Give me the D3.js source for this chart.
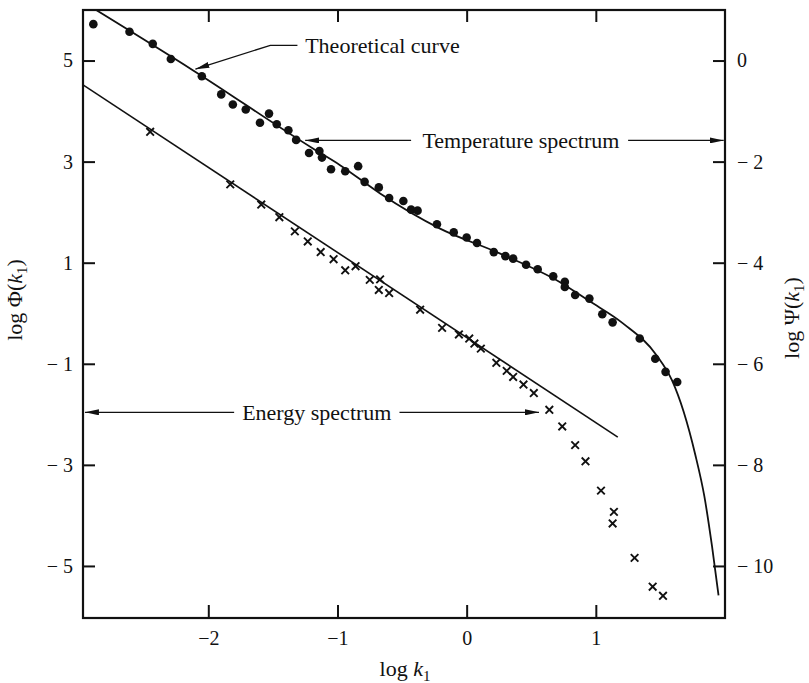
<!DOCTYPE html>
<html>
<head>
<meta charset="utf-8">
<script src="https://cdn.jsdelivr.net/npm/d3@7"></script>
<style>
  body { margin: 0; background: #fff; }
  svg text { font-family: 'Liberation Serif', 'Times New Roman', serif; fill: #111; }
</style>
</head>
<body>
<div id="chart"></div>
<script>
// Temperature spectrum (dots): log k1, log Phi(k1)
const tempX = [-2.89, -2.61, -2.43, -2.29, -2.05, -1.90, -1.81, -1.71, -1.60, -1.53, -1.47, -1.38, -1.32, -1.22, -1.14,
    -1.12, -1.05, -0.94, -0.84, -0.79, -0.68, -0.60, -0.49, -0.43, -0.38, -0.23, -0.10, 0.00, 0.08, 0.21,
    0.30, 0.36, 0.46, 0.55, 0.67, 0.76, 0.76, 0.84, 0.95, 1.05, 1.13, 1.34, 1.46, 1.54, 1.63];
const tempY = [5.72, 5.57, 5.33, 5.03, 4.69, 4.33, 4.13, 4.03, 3.77, 3.95, 3.74, 3.62, 3.43, 3.17, 3.21,
    3.08, 2.85, 2.81, 2.91, 2.60, 2.49, 2.28, 2.22, 2.05, 2.03, 1.76, 1.60, 1.50, 1.39, 1.21,
    1.13, 1.08, 0.96, 0.87, 0.73, 0.62, 0.52, 0.36, 0.29, -0.02, -0.18, -0.50, -0.90, -1.16, -1.36];

// Energy spectrum (crosses)
const energyX = [-2.45, -1.83, -1.59, -1.45, -1.33, -1.23, -1.13, -1.03, -0.94, -0.86, -0.75, -0.67, -0.68, -0.60, -0.36,
    -0.19, -0.06, 0.02, 0.06, 0.11, 0.23, 0.31, 0.36, 0.44, 0.52, 0.64, 0.74, 0.84, 0.92, 1.04,
    1.14, 1.13, 1.30, 1.44, 1.52];
const energyY = [3.59, 2.55, 2.15, 1.90, 1.62, 1.42, 1.21, 1.07, 0.85, 0.93, 0.66, 0.67, 0.46, 0.40, 0.07,
    -0.29, -0.42, -0.50, -0.60, -0.70, -0.98, -1.14, -1.26, -1.41, -1.58, -1.91, -2.24, -2.61, -2.93, -3.51,
    -3.93, -4.16, -4.84, -5.41, -5.59];

// Theoretical curve for the temperature spectrum
const curveX = [-2.90, -2.12, -1.19, -0.98, -0.67, -0.21, 0.26, 0.72, 0.95, 1.21, 1.47, 1.59, 1.68, 1.77, 1.84, 1.90, 1.95];
const curveY = [6.05, 4.81, 3.26, 2.93, 2.37, 1.68, 1.18, 0.62, 0.24, -0.20, -0.83, -1.33, -1.95, -2.80, -3.62, -4.62, -5.58];

// straight line through the energy spectrum
const lineX = [-2.97, 1.17];
const lineY = [4.52, -2.45];

// ticks
const xTicks = [-2, -1, 0, 1];
const xTickLabels = ['\u22122', '\u22121', '0', '1'];
const leftTicks = [5, 3, 1, -1, -3, -5];
const leftTickLabels = ['5', '3', '1', '\u2212 1', '\u2212 3', '\u2212 5'];
const rightTicks = [0, -2, -4, -6, -8, -10];
const rightTickLabels = ['0', '\u2212 2', '\u2212 4', '\u2212 6', '\u2212 8', '\u2212 10'];

const W = 809, H = 683;
const fLeft = 83, fRight = 725, fTop = 10, fBottom = 618;

const svg = d3.select('#chart').append('svg')
    .attr('width', W)
    .attr('height', H);

const x = d3.scaleLinear().domain([-2.97, 2.0]).range([fLeft, fRight]);
const y = d3.scaleLinear().domain([-6.03, 6.0]).range([fBottom, fTop]);
const yR = d3.scaleLinear().domain([-11.03, 1.0]).range([fBottom, fTop]);

const defs = svg.append('defs');
defs.append('clipPath').attr('id', 'frame')
    .append('rect').attr('x', fLeft).attr('y', fTop).attr('width', fRight - fLeft).attr('height', fBottom - fTop);

defs.append('marker')
    .attr('id', 'arrow')
    .attr('viewBox', '0 0 14 6')
    .attr('refX', 14).attr('refY', 3)
    .attr('markerWidth', 14).attr('markerHeight', 6)
    .attr('markerUnits', 'userSpaceOnUse')
    .attr('orient', 'auto')
    .append('path').attr('d', 'M0,0 L14,3 L0,6 Z').attr('fill', '#111');

// axes, ticks drawn inward
function styleAxis(g) {
    g.select('.domain').remove();
    g.selectAll('.tick line').attr('stroke', '#111').attr('stroke-width', 2);
    g.selectAll('.tick text').attr('font-size', 20).attr('fill', '#111');
}

svg.append('g')
    .attr('transform', `translate(0,${fBottom})`)
    .call(d3.axisBottom(x).tickValues(xTicks).tickSizeInner(-13).tickSizeOuter(0).tickPadding(13)
        .tickFormat((d, i) => xTickLabels[i]))
    .call(styleAxis);

svg.append('g')
    .attr('transform', `translate(0,${fTop})`)
    .call(d3.axisTop(x).tickValues(xTicks).tickSizeInner(-12).tickSizeOuter(0).tickFormat(''))
    .call(styleAxis);

svg.append('g')
    .attr('transform', `translate(${fLeft},0)`)
    .call(d3.axisLeft(y).tickValues(leftTicks).tickSizeInner(-12).tickSizeOuter(0).tickPadding(10)
        .tickFormat((d, i) => leftTickLabels[i]))
    .call(styleAxis);

svg.append('g')
    .attr('transform', `translate(${fRight},0)`)
    .call(d3.axisRight(yR).tickValues(rightTicks).tickSizeInner(-12).tickSizeOuter(0).tickPadding(12)
        .tickFormat((d, i) => rightTickLabels[i]))
    .call(styleAxis);

// frame
svg.append('rect')
    .attr('x', fLeft).attr('y', fTop)
    .attr('width', fRight - fLeft).attr('height', fBottom - fTop)
    .attr('fill', 'none').attr('stroke', '#111').attr('stroke-width', 2.2);

const plot = svg.append('g').attr('clip-path', 'url(#frame)');

// theoretical curve
plot.append('path')
    .datum(curveX.map((d, i) => [d, curveY[i]]))
    .attr('fill', 'none').attr('stroke', '#111').attr('stroke-width', 1.8)
    .attr('d', d3.line().x(d => x(d[0])).y(d => y(d[1])).curve(d3.curveMonotoneX));

// energy line
plot.append('path')
    .datum(lineX.map((d, i) => [d, lineY[i]]))
    .attr('fill', 'none').attr('stroke', '#111').attr('stroke-width', 1.6)
    .attr('d', d3.line().x(d => x(d[0])).y(d => y(d[1])));

// temperature dots
plot.selectAll('.dot')
    .data(tempX.map((d, i) => [d, tempY[i]]))
    .enter().append('circle')
    .attr('class', 'dot')
    .attr('cx', d => x(d[0]))
    .attr('cy', d => y(d[1]))
    .attr('r', 4.3)
    .attr('fill', '#111');

// energy crosses
const s = 3.8;
plot.selectAll('.cross')
    .data(energyX.map((d, i) => [d, energyY[i]]))
    .enter().append('path')
    .attr('class', 'cross')
    .attr('transform', d => `translate(${x(d[0])},${y(d[1])})`)
    .attr('d', `M${-s},${-s}L${s},${s}M${-s},${s}L${s},${-s}`)
    .attr('stroke', '#111').attr('stroke-width', 1.9);

// annotations
function arrow(pts) {
    svg.append('path')
        .attr('d', d3.line()(pts.map(p => [x(p[0]), y(p[1])])))
        .attr('fill', 'none').attr('stroke', '#111').attr('stroke-width', 1.3)
        .attr('marker-end', 'url(#arrow)');
}
function label(xv, yv, txt, anchor) {
    svg.append('text')
        .attr('x', x(xv)).attr('y', y(yv))
        .attr('dy', '0.35em')
        .attr('text-anchor', anchor)
        .attr('font-size', 22)
        .text(txt);
}

arrow([[-1.31, 5.30], [-1.52, 5.30], [-2.10, 4.83]]);
label(-1.25, 5.30, 'Theoretical curve', 'start');

arrow([[-0.43, 3.42], [-1.25, 3.42]]);
arrow([[1.25, 3.42], [1.99, 3.42]]);
label(0.42, 3.42, 'Temperature spectrum', 'middle');

arrow([[-1.80, -1.96], [-2.955, -1.96]]);
arrow([[-0.52, -1.96], [0.56, -1.96]]);
label(-1.16, -1.96, 'Energy spectrum', 'middle');

// axis titles
const xt = svg.append('text')
    .attr('x', 405).attr('y', 676)
    .attr('text-anchor', 'middle')
    .attr('font-size', 22);
xt.append('tspan').text('log ');
xt.append('tspan').attr('font-style', 'italic').text('k');
xt.append('tspan').attr('font-size', 15).attr('dy', 5).text('1');

function yTitle(cx, cy, sym) {
    const t = svg.append('text')
        .attr('transform', `translate(${cx},${cy}) rotate(-90)`)
        .attr('text-anchor', 'middle')
        .attr('font-size', 22);
    t.append('tspan').text('log ' + sym + '(');
    t.append('tspan').attr('font-style', 'italic').text('k');
    t.append('tspan').attr('font-size', 15).attr('dy', 5).text('1');
    t.append('tspan').attr('dy', -5).text(')');
}
yTitle(22, 300, '\u03A6');
yTitle(799, 318, '\u03A8');
</script>
</body>
</html>
